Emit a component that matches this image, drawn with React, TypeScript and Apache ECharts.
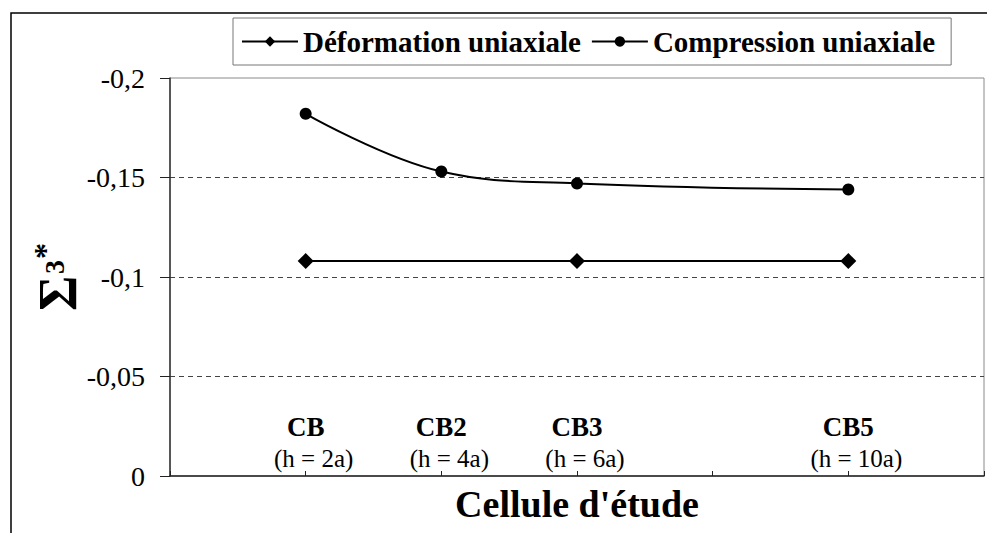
import React, { useEffect, useRef } from 'react';
import * as echarts from 'echarts';

// Study cells: height h (in units of a) and their names
const cellHeights = [2, 4, 6, 10];
const cellNames = ['CB', 'CB2', 'CB3', 'CB5'];
const cellHeightLabels = ['(h = 2a)', '(h = 4a)', '(h = 6a)', '(h = 10a)'];

// Σ3* for each loading case
const compressionValues = [-0.182, -0.153, -0.147, -0.144];
const deformationHeights = [2, 6, 10];
const deformationValues = [-0.108, -0.108, -0.108];

const seriesNames = ['Déformation uniaxiale', 'Compression uniaxiale'];

const SERIF = "'Liberation Serif', 'Times New Roman', serif";

export default function App() {
  const ref = useRef<HTMLDivElement>(null);

  useEffect(() => {
    if (!ref.current) return;
    const chart = echarts.init(ref.current, null, { renderer: 'svg' });

    const labelFor = (v: number) => {
      const i = cellHeights.indexOf(Math.round(v));
      if (i < 0) return '';
      return `{b|${cellNames[i]}}\n{n|${cellHeightLabels[i]}}`;
    };

    chart.setOption({
      animation: false,
      backgroundColor: '#fff',
      grid: {
        left: 170,
        top: 78,
        right: -3,
        bottom: 57,
        show: true,
        borderColor: '#8a8a8a',
        borderWidth: 1,
        backgroundColor: 'transparent',
      },
      legend: {
        left: 233,
        top: 18,
        padding: [9, 16, 9, 8],
        borderColor: '#777',
        borderWidth: 1,
        itemGap: 10,
        itemWidth: 56,
        itemHeight: 13,
        data: seriesNames,
        textStyle: {
          fontFamily: SERIF,
          fontWeight: 'bold',
          fontSize: 29,
          color: '#000',
        },
      },
      xAxis: {
        type: 'value',
        min: 0,
        max: 12,
        interval: 2,
        name: "Cellule d'étude",
        nameLocation: 'middle',
        nameGap: 9,
        nameTextStyle: {
          fontFamily: SERIF,
          fontWeight: 'bold',
          fontSize: 38,
          color: '#000',
          verticalAlign: 'top',
        },
        axisLine: { show: true, lineStyle: { color: '#222', width: 1.5 } },
        axisTick: { show: true, inside: true, length: 5, lineStyle: { color: '#222' } },
        splitLine: { show: false },
        axisLabel: {
          inside: true,
          margin: 3,
          color: '#000',
          formatter: labelFor,
          rich: {
            b: { fontFamily: SERIF, fontWeight: 'bold', fontSize: 27, lineHeight: 33, color: '#000' },
            n: { fontFamily: SERIF, fontSize: 25, lineHeight: 30, color: '#000', padding: [0, 0, 0, 16] },
          },
        },
      },
      yAxis: {
        type: 'value',
        inverse: true,
        min: -0.2,
        max: 0,
        interval: 0.05,
        axisLine: { show: true, lineStyle: { color: '#333', width: 1.5 } },
        axisTick: { show: true, inside: false, length: 10, lineStyle: { color: '#222' } },
        axisLabel: {
          margin: 25,
          fontFamily: SERIF,
          fontSize: 28,
          color: '#000',
          formatter: (v: number) => String(Math.round(v * 100) / 100).replace('.', ','),
        },
        splitLine: {
          show: true,
          showMinLine: false,
          showMaxLine: false,
          lineStyle: { color: '#444', width: 1, type: [5, 4] },
        },
      },
      graphic: [
        {
          type: 'rect',
          silent: true,
          shape: { x: 11, y: 13, width: 1200, height: 800 },
          style: { fill: 'none', stroke: '#000', lineWidth: 1.5 },
          z: 100,
        },
        {
          type: 'group',
          x: 58,
          y: 311,
          rotation: Math.PI / 2,
          children: [
            {
              type: 'text',
              x: 0,
              y: 0,
              style: {
                text: 'Σ',
                font: `bold 54px ${SERIF}`,
                fill: '#000',
                textAlign: 'left',
                textVerticalAlign: 'middle',
              },
            },
            {
              type: 'text',
              x: 37,
              y: -4,
              style: {
                text: '3',
                font: `bold 28px ${SERIF}`,
                fill: '#000',
                textAlign: 'left',
                textVerticalAlign: 'middle',
              },
            },
            {
              type: 'text',
              x: 52,
              y: -13,
              style: {
                text: '*',
                font: `bold 32px ${SERIF}`,
                fill: '#000',
                textAlign: 'left',
                textVerticalAlign: 'middle',
              },
            },
          ],
        },
      ],
      series: [
        {
          name: seriesNames[0],
          type: 'line',
          data: deformationHeights.map((h, i) => [h, deformationValues[i]]),
          symbol: 'diamond',
          symbolSize: 16,
          itemStyle: { color: '#000' },
          lineStyle: { color: '#000', width: 2 },
          z: 3,
        },
        {
          name: seriesNames[1],
          type: 'line',
          data: cellHeights.map((h, i) => [h, compressionValues[i]]),
          symbol: 'circle',
          symbolSize: 12,
          smooth: 0.4,
          itemStyle: { color: '#000' },
          lineStyle: { color: '#000', width: 2 },
          z: 3,
        },
      ],
    });

    return () => chart.dispose();
  }, []);

  return (
    <div
      ref={ref}
      style={{ position: 'absolute', left: 0, top: 0, width: 987, height: 533 }}
    />
  );
}
